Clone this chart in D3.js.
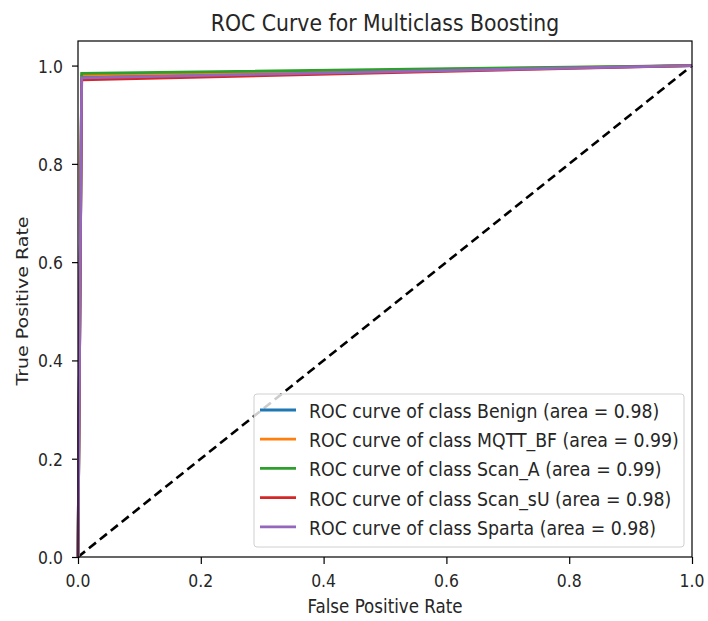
<!DOCTYPE html>
<html>
<head>
<meta charset="utf-8">
<script src="https://cdn.jsdelivr.net/npm/d3@7"></script>
<style>
  body { margin: 0; background: #fff; }
  text { font-family: "DejaVu Sans", sans-serif; fill: #262626; }
</style>
</head>
<body>
<div id="chart"></div>
<script>
// ROC data
var classNames = ["Benign", "MQTT_BF", "Scan_A", "Scan_sU", "Sparta"];
var classAreas = ["0.98", "0.99", "0.99", "0.98", "0.98"];
var classColors = ["#1f77b4", "#ff7f0e", "#2ca02c", "#d62728", "#9467bd"];
var fprPoints = [0, 0.006, 1];
var tprBenign = [0, 0.978, 1];
var tprMqtt = [0, 0.981, 1];
var tprScanA = [0, 0.984, 1];
var tprScanSU = [0, 0.971, 1];
var tprSparta = [0, 0.975, 1];
var tickValues = [0, 0.2, 0.4, 0.6, 0.8, 1.0];

var tprSeries = [tprBenign, tprMqtt, tprScanA, tprScanSU, tprSparta];

var width = 708, height = 621;
var margin = {top: 41, right: 16, bottom: 64, left: 78};
var sx = 0.88; // the reference is squeezed sideways a little

var svg = d3.select("#chart").append("svg")
    .attr("width", width)
    .attr("height", height);

var x = d3.scaleLinear().domain([0, 1]).range([margin.left, width - margin.right]);
var y = d3.scaleLinear().domain([0, 1.05]).range([height - margin.bottom, margin.top]);

function squeezeText(sel, px, py, str, size, anchor) {
  var g = sel.append("g").attr("transform", "translate(" + px + "," + py + ") scale(" + sx + ",1)");
  return g.append("text")
    .attr("text-anchor", anchor || "start")
    .style("font-size", size + "px")
    .text(str);
}

// axes
svg.append("g").attr("transform", "translate(0," + y(0) + ")")
    .call(d3.axisBottom(x).tickValues(tickValues).tickSize(7).tickFormat(""));
svg.append("g").attr("transform", "translate(" + x(0) + ",0)")
    .call(d3.axisLeft(y).tickValues(tickValues).tickSize(6).tickFormat(""));
svg.selectAll(".domain").remove();
svg.selectAll(".tick line").attr("stroke", "#000").attr("stroke-width", 1.2);

tickValues.forEach(function(v) {
  squeezeText(svg, x(v), y(0) + 30, d3.format(".1f")(v), 17.8, "middle");
  squeezeText(svg, x(0) - 15, y(v) + 7, d3.format(".1f")(v), 17.8, "end");
});

// diagonal
var line = d3.line().x(function(d) { return x(d[0]); }).y(function(d) { return y(d[1]); });
svg.append("path")
    .attr("d", line([[0, 0], [1, 1]]))
    .attr("fill", "none")
    .attr("stroke", "#000")
    .attr("stroke-width", 2.6)
    .attr("stroke-dasharray", "9,5");

// curves
tprSeries.forEach(function(tpr, i) {
  svg.append("path")
    .attr("d", line(fprPoints.map(function(f, j) { return [f, tpr[j]]; })))
    .attr("fill", "none")
    .attr("stroke", classColors[i])
    .attr("stroke-width", 2.8);
});

// frame
svg.append("rect")
    .attr("x", x(0)).attr("y", y(1.05))
    .attr("width", x(1) - x(0)).attr("height", y(0) - y(1.05))
    .attr("fill", "none").attr("stroke", "#000").attr("stroke-width", 1.2);

// titles
squeezeText(svg, (x(0) + x(1)) / 2, 31, "ROC Curve for Multiclass Boosting", 23.2, "middle");
squeezeText(svg, (x(0) + x(1)) / 2, 613, "False Positive Rate", 19, "middle");
svg.append("g").attr("transform", "translate(28," + 301 + ") rotate(-90) scale(1," + sx + ")")
  .append("text").attr("text-anchor", "middle").style("font-size", "19px").text("True Positive Rate");

// legend
var lg = svg.append("g").attr("transform", "translate(254,394)");
lg.append("rect")
    .attr("width", 430).attr("height", 153).attr("rx", 3)
    .attr("fill", "rgba(255,255,255,0.8)").attr("stroke", "#d0d0d0");
classNames.forEach(function(name, i) {
  var ry = 16 + i * 29.2;
  lg.append("line")
    .attr("x1", 6).attr("x2", 42).attr("y1", ry).attr("y2", ry)
    .attr("stroke", classColors[i]).attr("stroke-width", 2.8);
  squeezeText(lg, 55, ry + 8, "ROC curve of class " + name + " (area = " + classAreas[i] + ")", 19.7, "start");
});
</script>
</body>
</html>
